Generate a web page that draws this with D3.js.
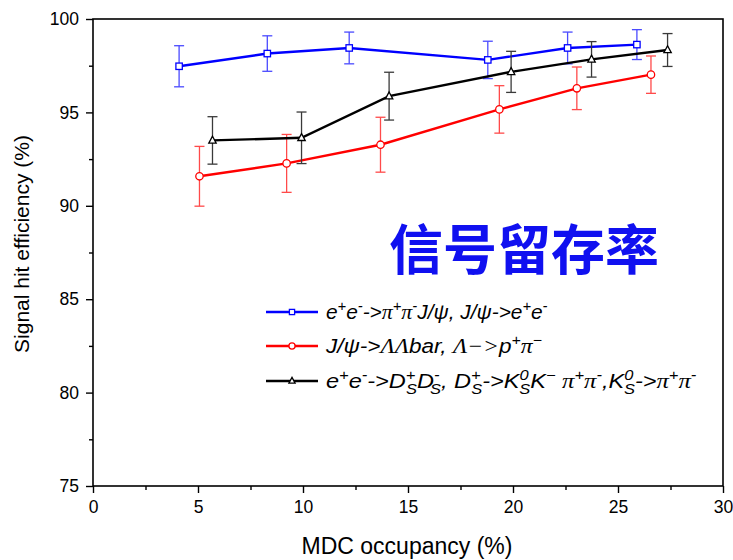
<!DOCTYPE html>
<html><head><meta charset="utf-8">
<script src="https://cdn.jsdelivr.net/npm/d3@7/dist/d3.min.js"></script>
<style>body{margin:0;background:#fff}svg{display:block}</style>
</head><body>
<svg id="c" width="733" height="560"></svg>
<script>
// Data
const xTicks = [0,5,10,15,20,25,30];
const yTicks = [75,80,85,90,95,100];
const blueX = [4.1,8.3,12.2,18.8,22.6,25.9];
const blueY = [97.47,98.15,98.45,97.81,98.45,98.63];
const blueErr = [1.1,0.95,0.85,1.0,0.85,0.8];
const redX = [5.07,9.22,13.69,19.35,23.04,26.57];
const redY = [91.58,92.27,93.27,95.16,96.29,97.02];
const redErr = [1.6,1.55,1.47,1.27,1.14,1.0];
const blackX = [5.69,9.93,14.1,19.91,23.74,27.36];
const blackY = [93.5,93.64,95.87,97.17,97.84,98.34];
const blackErr = [1.27,1.38,1.28,1.1,0.95,0.88];

const series = [
  {name:"blue", x:blueX, y:blueY, e:blueErr, color:"#0000ff", ecol:"#4a4aff", marker:"square"},
  {name:"red", x:redX, y:redY, e:redErr, color:"#ff0000", ecol:"#ff4a4a", marker:"circle"},
  {name:"black", x:blackX, y:blackY, e:blackErr, color:"#000000", ecol:"#3a3a3a", marker:"triangle"}
];

const svg = d3.select("#c");
const L=93, R=723, T=19, B=486;
const x = d3.scaleLinear().domain([0,30]).range([L,R]);
const y = d3.scaleLinear().domain([75,100]).range([B,T]);
const font = "Arial, 'Liberation Sans', sans-serif";
const serif = "'Liberation Serif', 'Times New Roman', serif";

// frame
svg.append("rect").attr("x",L).attr("y",T).attr("width",R-L).attr("height",B-T)
  .attr("fill","none").attr("stroke","#000").attr("stroke-width",1.6);

// axes
const xAxis = svg.append("g").attr("transform",`translate(0,${B})`)
  .call(d3.axisBottom(x).tickValues(xTicks).tickSize(7).tickPadding(8).tickFormat(d3.format("d")));
const xMinor = svg.append("g").attr("transform",`translate(0,${B})`)
  .call(d3.axisBottom(x).tickValues(d3.range(2.5,30,5)).tickSize(4).tickFormat(""));
const yAxis = svg.append("g").attr("transform",`translate(${L},0)`)
  .call(d3.axisLeft(y).tickValues(yTicks).tickSize(7).tickPadding(7).tickFormat(d3.format("d")));
const yMinor = svg.append("g").attr("transform",`translate(${L},0)`)
  .call(d3.axisLeft(y).tickValues(d3.range(77.5,100,5)).tickSize(4).tickFormat(""));
[xAxis,xMinor,yAxis,yMinor].forEach(g=>{
  g.select(".domain").remove();
  g.selectAll("line").attr("stroke","#000").attr("stroke-width",1.4);
  g.selectAll("text").attr("font-family",font).attr("font-size",17.5).attr("fill","#000");
});

// labels
svg.append("text").attr("x",407).attr("y",554).attr("text-anchor","middle")
  .attr("font-family",font).attr("font-size",23).text("MDC occupancy (%)");
svg.append("text").attr("transform",`translate(29,244) rotate(-90)`).attr("text-anchor","middle")
  .attr("font-family",font).attr("font-size",21).text("Signal hit efficiency (%)");

// Chinese title
svg.append("text").attr("x",524).attr("y",270).attr("text-anchor","middle")
  .attr("font-family","'Noto Sans CJK SC'").attr("font-weight","bold").attr("font-size",54)
  .attr("fill","#1010f0").text("信号留存率");

function marker(g, m, cx, cy, color, s){
  if(m==="square") g.append("rect").attr("x",cx-s).attr("y",cy-s).attr("width",2*s).attr("height",2*s)
    .attr("fill","#fff").attr("stroke",color).attr("stroke-width",1.3);
  else if(m==="circle") g.append("circle").attr("cx",cx).attr("cy",cy).attr("r",s+0.5)
    .attr("fill","#fff").attr("stroke",color).attr("stroke-width",1.3);
  else g.append("path").attr("d",`M${cx},${cy-s-1}L${cx+s+0.5},${cy+s-0.5}L${cx-s-0.5},${cy+s-0.5}Z`)
    .attr("fill","#fff").attr("stroke",color).attr("stroke-width",1.3);
}

const plot = svg.append("g");
series.forEach(s=>{
  const pts = s.x.map((v,i)=>({x:v,y:s.y[i],e:s.e[i]}));
  const g = plot.append("g");
  pts.forEach(p=>{
    g.append("line").attr("x1",x(p.x)).attr("x2",x(p.x)).attr("y1",y(p.y+p.e)).attr("y2",y(p.y-p.e))
      .attr("stroke",s.ecol).attr("stroke-width",1.3);
    [p.y+p.e,p.y-p.e].forEach(v=>g.append("line").attr("x1",x(p.x)-5).attr("x2",x(p.x)+5)
      .attr("y1",y(v)).attr("y2",y(v)).attr("stroke",s.ecol).attr("stroke-width",1.3));
  });
  g.append("path").datum(pts).attr("fill","none").attr("stroke",s.color).attr("stroke-width",2.4)
    .attr("d",d3.line().x(d=>x(d.x)).y(d=>y(d.y)));
  pts.forEach(p=>marker(g,s.marker,x(p.x),y(p.y),s.color,3.2));
});

// legend: segments [text, kind, extra]; kind: n normal, g greek(serif), sup, supsub
const legY = [312,346,381];
const legEnd = [548,542,697];
const legLabels = [
  [["e","n"],["+","sup"],["e","n"],["-","sup"],["->","n"],["π","g"],["+","sup"],["π","g"],["-","sup"],["J/ψ, J/ψ->e","n"],["+","sup"],["e","n"],["-","sup"]],
  [["J/ψ->","n"],["ΛΛ","g"],["bar, ","n"],["Λ−>","g"],["p","n"],["+","sup"],["π","g"],["−","sup"]],
  [["e","n"],["+","sup"],["e","n"],["-","sup"],["->D","n"],["+","supsub","S"],["D","n"],["-","supsub","S"],[", D","n"],["+","supsub","S"],["->K","n"],["0","supsub","S"],["K","n"],["−","sup"],[" ","n"],["π","g"],["+","sup"],["π","g"],["-","sup"],[",K","n"],["0","supsub","S"],["->","n"],["π","g"],["+","sup"],["π","g"],["-","sup"]]
];
const FS = 20, SS = 14;
const legend = svg.append("g");
series.forEach((s,i)=>{
  const yy = legY[i];
  legend.append("line").attr("x1",266).attr("x2",318).attr("y1",yy).attr("y2",yy)
    .attr("stroke",s.color).attr("stroke-width",2.4);
  marker(legend,s.marker,292,yy,s.color,2.6);
  const tg = legend.append("g");
  const t = tg.append("text").attr("x",326).attr("y",yy+7).attr("font-family",font)
    .attr("font-style","italic").attr("font-size",FS).attr("fill","#000");
  let off = 0;
  const add = (txt, target, fam, size, dx) => {
    const sp = t.append("tspan").attr("dy", target-off).attr("font-size", size).text(txt);
    if(fam) sp.attr("font-family", fam);
    if(dx) sp.attr("dx", dx);
    off = target;
  };
  legLabels[i].forEach(seg=>{
    if(seg[1]==="n") add(seg[0],0,null,FS);
    else if(seg[1]==="g") add(seg[0],0,serif,FS+1);
    else if(seg[1]==="sup") add(seg[0],-8,null,SS);
    else { add(seg[0],-8,null,SS); add(seg[2],6,null,SS,-8); }
  });
  const bb = t.node().getBBox();
  const sx = (legEnd[i]-326)/(bb.x+bb.width-326);
  tg.attr("transform",`translate(326,0) scale(${sx},1) translate(-326,0)`);
});
</script>
</body></html>
